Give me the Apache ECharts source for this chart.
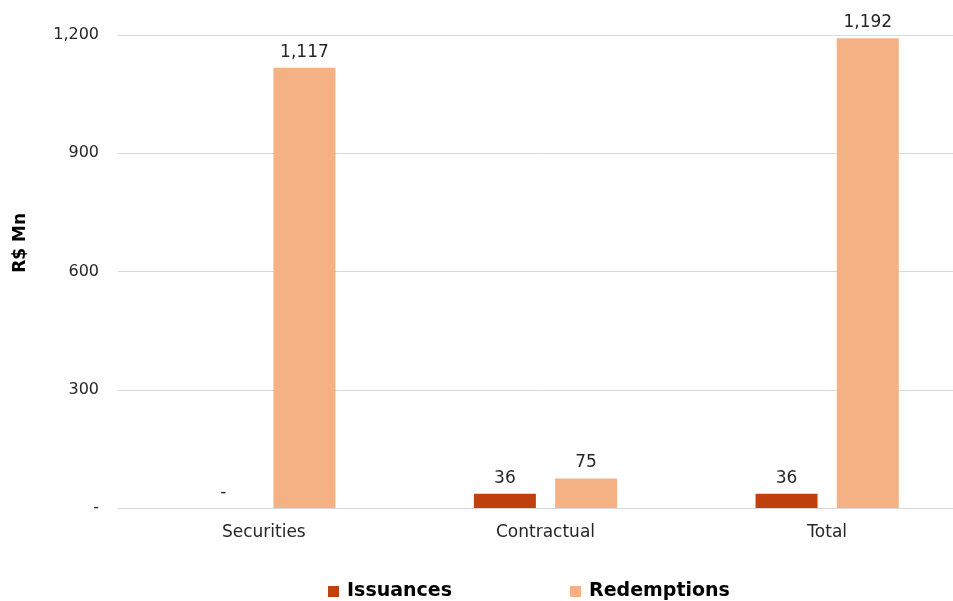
<!DOCTYPE html>
<html>
<head>
<meta charset="utf-8">
<script src="https://cdn.jsdelivr.net/npm/echarts@6/dist/echarts.min.js"></script>
<style>
  html, body { margin: 0; padding: 0; background: #fff; }
  #chart { width: 953px; height: 601px; }
</style>
</head>
<body>
<div id="chart"></div>
<script>
// Flows by instrument type, R$ millions
const categories = ['Securities', 'Contractual', 'Total'];
const issuances = [0, 36, 36];
const redemptions = [1117, 75, 1192];
const yTicks = [0, 300, 600, 900, 1200];

const FONT = '"DejaVu Sans", sans-serif';

function fmt(v) {
  return v === 0 ? '-' : v.toLocaleString('en-US');
}

const chart = echarts.init(document.getElementById('chart'));
chart.setOption({
  animation: false,
  textStyle: { fontFamily: FONT },
  // the category band runs slightly past the right edge of the canvas
  grid: { left: 123, width: 845, top: 35, bottom: 93, containLabel: false, outerBoundsMode: 'none' },
  legend: {
    top: 577,
    left: 323,
    itemWidth: 11,
    itemHeight: 11,
    itemGap: 118,
    icon: 'rect',
    textStyle: { fontFamily: FONT, fontWeight: 'bold', fontSize: 19, color: '#000', padding: [0, 0, 0, 3] },
    data: ['Issuances', 'Redemptions']
  },
  graphic: [{
    type: 'text',
    left: 12,
    top: 213,
    rotation: Math.PI / 2,
    style: { text: 'R$ Mn', font: 'bold 17px ' + FONT, fill: '#000' }
  }],
  xAxis: {
    type: 'category',
    data: categories,
    axisLine: { show: true, lineStyle: { color: '#D9D9D9' } },
    axisTick: { show: false },
    axisLabel: { color: '#262626', fontSize: 17, margin: 16, fontFamily: FONT }
  },
  yAxis: {
    type: 'value',
    min: yTicks[0],
    max: yTicks[yTicks.length - 1],
    interval: 300,
    axisLine: { show: false },
    axisTick: { show: true, length: 5, lineStyle: { color: '#D9D9D9' } },
    splitLine: { lineStyle: { color: '#D9D9D9' } },
    axisLabel: { color: '#262626', fontSize: 16, margin: 24, fontFamily: FONT, formatter: fmt }
  },
  series: [
    {
      name: 'Issuances',
      type: 'bar',
      data: issuances,
      barWidth: 62,
      barGap: '31%',
      itemStyle: { color: '#C0410E' },
      label: { show: true, position: 'top', distance: 7, color: '#262626', fontSize: 17, fontFamily: FONT, formatter: p => fmt(p.value) }
    },
    {
      name: 'Redemptions',
      type: 'bar',
      data: redemptions,
      barWidth: 62,
      barGap: '31%',
      itemStyle: { color: '#F4B183' },
      label: { show: true, position: 'top', distance: 7, color: '#262626', fontSize: 17, fontFamily: FONT, formatter: p => fmt(p.value) }
    }
  ]
});
</script>
</body>
</html>
